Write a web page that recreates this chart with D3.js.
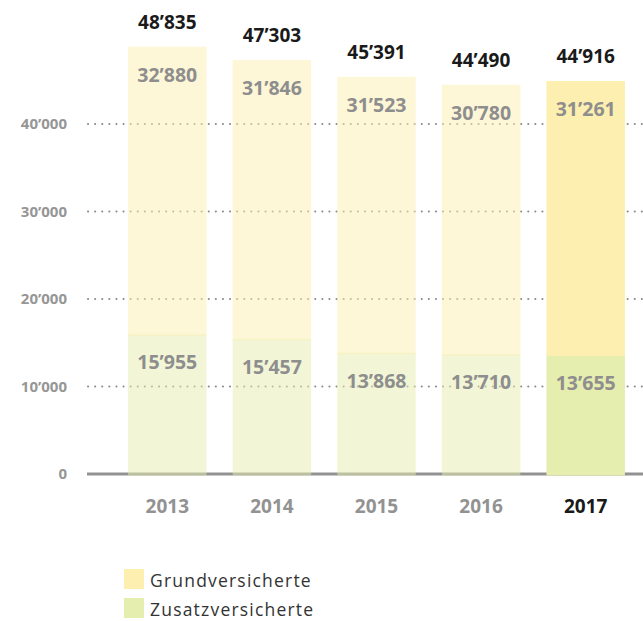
<!DOCTYPE html>
<html>
<head>
<meta charset="utf-8">
<script src="https://cdn.jsdelivr.net/npm/d3@7"></script>
<style>
  body { margin: 0; background: #fff; }
  svg text { font-family: "Open Sans", sans-serif; }
</style>
</head>
<body>
<svg id="chart" width="643" height="621"></svg>
<script>
const years = ["2013", "2014", "2015", "2016", "2017"];
const grund = [32880, 31846, 31523, 30780, 31261];
const zusatz = [15955, 15457, 13868, 13710, 13655];
const yTicks = [0, 10000, 20000, 30000, 40000];
const seriesNames = ["Grundversicherte", "Zusatzversicherte"];

const data = years.map((y, i) => ({ year: y, grund: grund[i], zusatz: zusatz[i] }));

const fmt = d3.formatLocale({ decimal: ".", thousands: "\u2019", grouping: [3], currency: ["", ""] }).format(",");

const svg = d3.select("#chart");

const x = d3.scaleBand()
    .domain(years)
    .range([115, 638])
    .paddingInner(0.25)
    .paddingOuter(0.125);

const y = d3.scaleLinear()
    .domain([0, 40000])
    .range([474, 124]);

const color = d3.scaleOrdinal()
    .domain(["grund", "zusatz"])
    .range(["#fdefaf", "#e5edaf"]);

const last = years[years.length - 1];

// grid lines (dotted)
svg.append("g")
    .selectAll("line")
    .data(yTicks.filter(d => d > 0))
    .join("line")
    .attr("x1", 88)
    .attr("x2", 643)
    .attr("y1", d => y(d))
    .attr("y2", d => y(d))
    .attr("stroke", "#8a8a8a")
    .attr("stroke-width", 2)
    .attr("stroke-linecap", "round")
    .attr("stroke-dasharray", "0.1 7");

// baseline
svg.append("line")
    .attr("x1", 87)
    .attr("x2", 643)
    .attr("y1", y(0))
    .attr("y2", y(0))
    .attr("stroke", "#929292")
    .attr("stroke-width", 3);

// y labels
svg.append("g")
    .selectAll("text")
    .data(yTicks)
    .join("text")
    .attr("x", 67)
    .attr("y", d => y(d))
    .attr("dy", "0.35em")
    .attr("text-anchor", "end")
    .attr("font-size", 15)
    .attr("font-weight", "bold")
    .attr("fill", "#969696")
    .text(d => fmt(d));

const stack = d3.stack().keys(["zusatz", "grund"]);

svg.append("g")
    .selectAll("g")
    .data(stack(data))
    .join("g")
    .attr("fill", d => color(d.key))
    .selectAll("rect")
    .data(d => d)
    .join("rect")
    .attr("x", d => x(d.data.year))
    .attr("y", d => y(d[1]))
    .attr("width", x.bandwidth())
    .attr("height", d => y(d[0]) - y(d[1]) + 1.5)
    .attr("fill-opacity", d => d.data.year === last ? 1 : 0.5);

// segment labels
svg.append("g")
    .selectAll("g")
    .data(stack(data))
    .join("g")
    .selectAll("text")
    .data(d => d)
    .join("text")
    .attr("x", d => x(d.data.year) + x.bandwidth() / 2)
    .attr("y", d => y(d[1]) + 35)
    .attr("text-anchor", "middle")
    .attr("font-size", 19.5)
    .attr("font-weight", "bold")
    .attr("fill", "#8e8e8e")
    .text(d => fmt(d[1] - d[0]));

// totals
svg.append("g")
    .selectAll("text")
    .data(data)
    .join("text")
    .attr("x", d => x(d.year) + x.bandwidth() / 2)
    .attr("y", d => y(d.grund + d.zusatz) - 18)
    .attr("text-anchor", "middle")
    .attr("font-size", 19)
    .attr("font-weight", "bold")
    .attr("fill", "#1a1a1a")
    .text(d => fmt(d.grund + d.zusatz));

// x labels
svg.append("g")
    .selectAll("text")
    .data(years)
    .join("text")
    .attr("x", d => x(d) + x.bandwidth() / 2)
    .attr("y", 513)
    .attr("text-anchor", "middle")
    .attr("font-size", 19)
    .attr("font-weight", "bold")
    .attr("fill", d => d === last ? "#1a1a1a" : "#929292")
    .text(d => d);

// legend
const legend = svg.append("g")
    .selectAll("g")
    .data(["grund", "zusatz"])
    .join("g")
    .attr("transform", (d, i) => `translate(124,${569 + i * 29})`);

legend.append("rect")
    .attr("width", 20)
    .attr("height", 20)
    .attr("fill", color);

legend.append("text")
    .attr("x", 26)
    .attr("y", 17.5)
    .attr("font-size", 17.5)
    .attr("letter-spacing", 1.2)
    .attr("fill", "#333")
    .text((d, i) => seriesNames[i]);
</script>
</body>
</html>
